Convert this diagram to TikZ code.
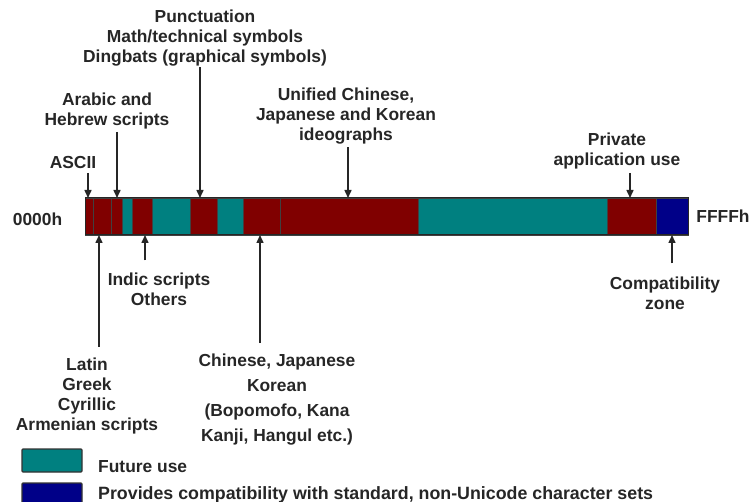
\documentclass[tikz,border=0pt]{standalone}
\usepackage{fontspec}
\setmainfont{Liberation Sans}
\usetikzlibrary{arrows.meta}

\definecolor{segred}{HTML}{800000}
\definecolor{segteal}{HTML}{008080}
\definecolor{segblue}{HTML}{000088}
\definecolor{ink}{HTML}{262626}

\begin{document}
\begin{tikzpicture}[x=1pt,y=-1pt,
  lbl/.style={inner sep=0pt, align=center, text=ink,
    font=\bfseries\fontsize{17.4}{20}\selectfont},
  pointer/.style={draw=ink, line width=1.5pt,
    -{Triangle[length=8pt,width=7pt]}},
  seg/.style={draw=black!75, line width=0.8pt},
  swatch/.style={draw=black!80, line width=1.2pt, rounded corners=1pt}]
\useasboundingbox (0,0) rectangle (749,502);

% code-space bar, 0000h .. FFFFh
\fill[segred,  seg] (85,198)  rectangle (93,235);
\fill[segred,  seg] (93,198)  rectangle (111,235);
\fill[segred,  seg] (111,198) rectangle (122,235);
\fill[segteal, seg] (122,198) rectangle (132,235);
\fill[segred,  seg] (132,198) rectangle (152,235);
\fill[segteal, seg] (152,198) rectangle (190,235);
\fill[segred,  seg] (190,198) rectangle (217,235);
\fill[segteal, seg] (217,198) rectangle (243,235);
\fill[segred,  seg] (243,198) rectangle (280,235);
\fill[segred,  seg] (280,198) rectangle (418,235);
\fill[segteal, seg] (418,198) rectangle (607,235);
\fill[segred,  seg] (607,198) rectangle (656,235);
\fill[segblue, seg] (656,198) rectangle (688,235);
\draw[black!85, line width=1pt] (85,198) rectangle (688,235);

% pointer targets on the bar edges
\coordinate (t-ascii)   at (88,198);
\coordinate (t-arabic)  at (117,198);
\coordinate (t-punct)   at (200,198);
\coordinate (t-unified) at (348,198);
\coordinate (t-private) at (630,198);
\coordinate (t-latin)   at (99,235);
\coordinate (t-indic)   at (145,235);
\coordinate (t-cjk)     at (260,235);
\coordinate (t-compat)  at (672,235);

% end labels
\node[lbl] (lo) at (37.5,219) {0000h};
\node[lbl] (hi) at (723,216) {FFFFh};

% labels above the bar
\node[lbl] (ascii)   at (73,163)   {ASCII};
\node[lbl] (arabic)  at (107,111.5) {Arabic and\\Hebrew scripts};
\node[lbl] (punct)   at (205,38)   {Punctuation\\Math/technical symbols\\Dingbats (graphical symbols)};
\node[lbl] (unified) at (346,116)  {Unified Chinese,\\Japanese and Korean\\ideographs};
\node[lbl] (private) at (617,151.5) {Private\\application use};

% labels below the bar
\node[lbl] (indic)  at (159,289) {Indic scripts\\Others};
\node[lbl] (latin)  at (87,396)  {Latin\\Greek\\Cyrillic\\Armenian scripts};
\node[lbl, font=\bfseries\fontsize{17.4}{25}\selectfont] (cjk) at (277,400)
  {Chinese, Japanese\\Korean\\(Bopomofo, Kana\\Kanji, Hangul etc.)};
\node[lbl] (compat) at (665,293) {Compatibility\\zone};

% pointers
\draw[pointer, shorten <=3.5pt] (ascii.south -| t-ascii) -- (t-ascii);
\draw[pointer, shorten <=2pt]   (arabic.south -| t-arabic) -- (t-arabic);
\draw[pointer, shorten <=1pt]   (punct.south -| t-punct) -- (t-punct);
\draw[pointer, shorten <=3pt]   (unified.south -| t-unified) -- (t-unified);
\draw[pointer, shorten <=3pt]   (private.south -| t-private) -- (t-private);
\draw[pointer, shorten <=11pt]  (latin.north -| t-latin) -- (t-latin);
\draw[pointer, shorten <=12pt]  (indic.north -| t-indic) -- (t-indic);
\draw[pointer, shorten <=11pt]  (cjk.north -| t-cjk) -- (t-cjk);
\draw[pointer, shorten <=13pt]  (compat.north -| t-compat) -- (t-compat);

% legend
\draw[swatch, fill=segteal] (22,449) rectangle (82,472);
\node[lbl, anchor=west] (key-future) at (98,467) {Future use};
\draw[swatch, fill=segblue] (22,483) rectangle (82,506);
\node[lbl, anchor=west, font=\bfseries\fontsize{17.8}{20}\selectfont] (key-compat) at (98,494.5)
  {Provides compatibility with standard, non-Unicode character sets};
\end{tikzpicture}
\end{document}
